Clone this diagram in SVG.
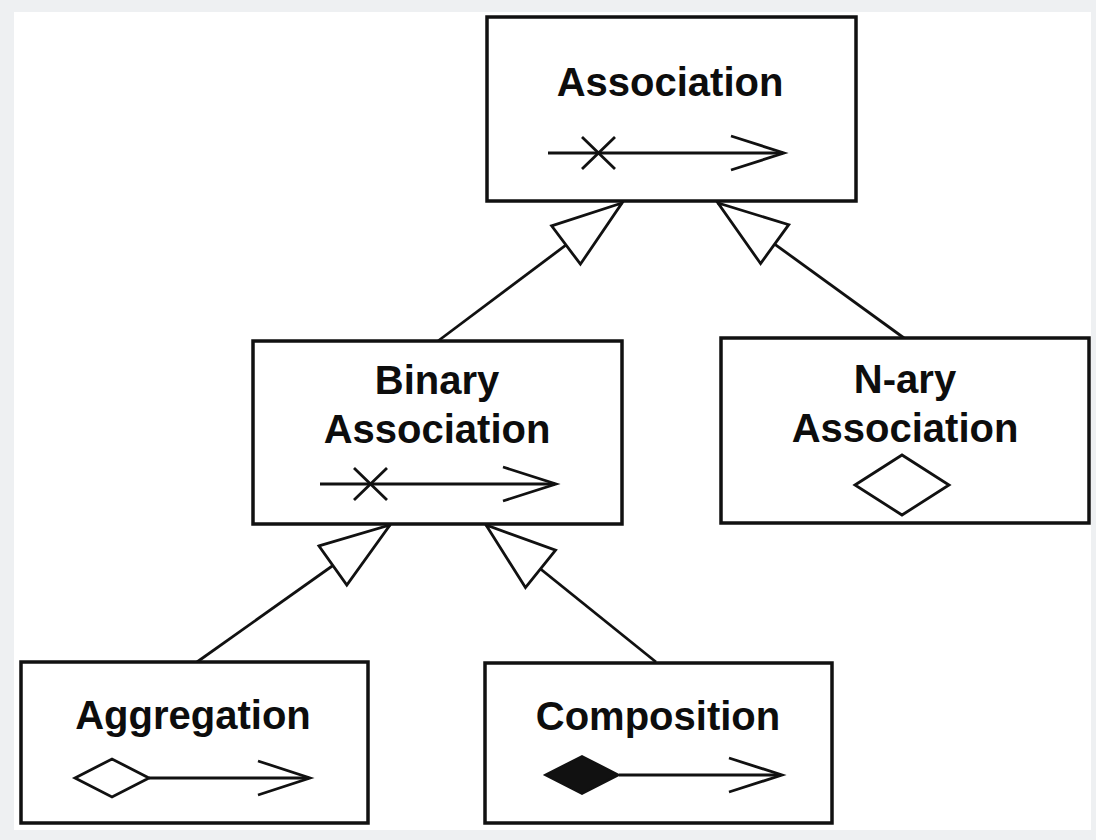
<svg xmlns="http://www.w3.org/2000/svg" width="1096" height="840" viewBox="0 0 1096 840">
<style>
.box{fill:#fff;stroke:#111;stroke-width:3.5}
.lbl{font-family:"Liberation Sans",Arial,Helvetica,sans-serif;font-weight:bold;font-size:40px;fill:#0d0d0d;text-anchor:middle}
.ln{fill:none;stroke:#111;stroke-width:2.8;stroke-linejoin:miter}
.gen{stroke:#111;stroke-width:2.8;fill:none}
</style>
<defs>
<marker id="tri" markerUnits="userSpaceOnUse" viewBox="-2 -27 76 54" refX="70" refY="0" markerWidth="76" markerHeight="54" orient="auto">
<path d="M0,-24 L70,0 L0,24 Z" fill="#fff" stroke="#111" stroke-width="2.8" stroke-linejoin="miter"/>
</marker>
</defs>
<rect width="1096" height="840" fill="#eef0f2"/>
<rect x="14" y="12" width="1077" height="818" fill="#fff"/>
<g id="connectors">
<line class="gen" x1="438" y1="341" x2="622" y2="203" marker-end="url(#tri)"/>
<line class="gen" x1="904" y1="338" x2="718" y2="203" marker-end="url(#tri)"/>
<line class="gen" x1="197" y1="662" x2="390" y2="525" marker-end="url(#tri)"/>
<line class="gen" x1="656" y1="662" x2="486" y2="525" marker-end="url(#tri)"/>
</g>
<g id="association">
<rect class="box" x="487" y="17" width="369" height="184"/>
<text class="lbl" x="670" y="96">Association</text>
<line class="ln" x1="548" y1="153" x2="783" y2="153"/>
<path class="ln" d="M582,137 L615,169 M582,169 L615,137"/>
<polyline class="ln" points="731,136 784,153 731,170"/>
</g>
<g id="binary-association">
<rect class="box" x="253" y="341" width="369" height="183"/>
<text class="lbl" x="437" y="394">Binary</text>
<text class="lbl" x="437" y="443">Association</text>
<line class="ln" x1="320" y1="484" x2="555" y2="484"/>
<path class="ln" d="M354,468 L387,500 M354,500 L387,468"/>
<polyline class="ln" points="503,467 556,484 503,501"/>
</g>
<g id="nary-association">
<rect class="box" x="721" y="338" width="368" height="185"/>
<text class="lbl" x="905" y="393">N-ary</text>
<text class="lbl" x="905" y="442">Association</text>
<polygon class="ln" points="855,485 902,455 949,485 902,515"/>
</g>
<g id="aggregation">
<rect class="box" x="21" y="662" width="347" height="161"/>
<text class="lbl" x="193" y="729">Aggregation</text>
<polygon class="ln" points="75,778 112,759 149,778 112,797"/>
<line class="ln" x1="149" y1="778" x2="309" y2="778"/>
<polyline class="ln" points="258,761 310,778 258,795"/>
</g>
<g id="composition">
<rect class="box" x="485" y="663" width="347" height="160"/>
<text class="lbl" x="658" y="730">Composition</text>
<polygon points="545,775 582,756 619,775 582,794" fill="#111" stroke="#111" stroke-width="2"/>
<line class="ln" x1="619" y1="775" x2="781" y2="775"/>
<polyline class="ln" points="729,758 782,775 729,792"/>
</g>
</svg>
